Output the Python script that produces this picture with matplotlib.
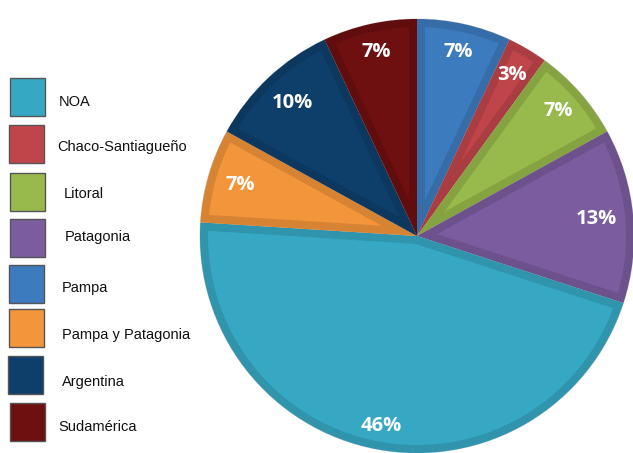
import matplotlib
matplotlib.use("Agg")
import numpy as np
import matplotlib.pyplot as plt
from matplotlib.patches import Wedge, Rectangle
import matplotlib.colors as mcolors

# Data (clockwise from 12 o'clock)
pie_labels = ["Pampa", "Chaco-Santiagueño", "Litoral", "Patagonia", "NOA",
              "Pampa y Patagonia", "Argentina", "Sudamérica"]
pie_values = [7, 3, 7, 13, 46, 7, 10, 7]
pie_colors = ["#3D7BBF", "#C0454A", "#98B94B", "#7B5C9F", "#37A8C4",
              "#F3953B", "#0E3F6B", "#6E0F10"]

legend_labels = ["NOA", "Chaco-Santiagueño", "Litoral", "Patagonia", "Pampa",
                 "Pampa y Patagonia", "Argentina", "Sudamérica"]
legend_colors = ["#37A8C4", "#C0454A", "#98B94B", "#7B5C9F", "#3D7BBF",
                 "#F3953B", "#0E3F6B", "#6E0F10"]

# radial position of each percentage label (fraction of radius)
label_dist = [0.87, 0.86, 0.87, 0.83, 0.89, 0.85, 0.84, 0.87]

W, H = 633, 453
fig = plt.figure(figsize=(W / 100, H / 100), dpi=100)

cx, cy, R = 417, 236, 217
ax = fig.add_axes([(cx - R) / W, (H - cy - R) / H, 2 * R / W, 2 * R / H])

def darker(c, f=0.88):
    r, g, b = mcolors.to_rgb(c)
    return (r * f, g * f, b * f)

wedges, texts = ax.pie(
    pie_values, colors=pie_colors, startangle=90, counterclock=False,
    radius=1.0, wedgeprops=dict(edgecolor="#d9d9d9", linewidth=0.7))
ax.set_xlim(-1, 1)
ax.set_ylim(-1, 1)
ax.set_aspect("equal")
ax.axis("off")

total = sum(pie_values)
for w, c, v, d in zip(wedges, pie_colors, pie_values, label_dist):
    w.set_clip_on(False)
    border = Wedge(w.center, w.r, w.theta1, w.theta2, facecolor="none",
                   edgecolor=darker(c), linewidth=11.5,
                   zorder=w.get_zorder() + 0.1)
    ax.add_patch(border)
    border.set_clip_path(w)
    mid = np.deg2rad((w.theta1 + w.theta2) / 2)
    ax.text(d * np.cos(mid), d * np.sin(mid), f"{round(100 * v / total)}%",
            ha="center", va="center", color="white", fontsize=14.5,
            fontweight="bold", family="Open Sans", zorder=5)

# Legend (manual, in pixel coordinates)
box_tops = [78, 125, 173, 219, 265, 309, 356, 403]
box_lefts = [10, 9, 10, 10, 9, 9, 8, 10]
text_x = [59, 57, 64, 65, 62, 62, 62, 58]
text_y = [102, 147, 194, 237, 288, 335, 382, 427]
bw, bh = 35, 38
for lab, col, top, left, tx, ty in zip(legend_labels, legend_colors, box_tops,
                                       box_lefts, text_x, text_y):
    rect = Rectangle((left / W, 1 - (top + bh) / H), bw / W, bh / H,
                     transform=fig.transFigure, facecolor=col,
                     edgecolor="#555555", linewidth=1.0)
    fig.add_artist(rect)
    fig.text(tx / W, 1 - ty / H, lab, ha="left", va="center",
             fontsize=10.5, family="Liberation Sans", color="#111111")

fig.savefig("out.png", dpi=100)
